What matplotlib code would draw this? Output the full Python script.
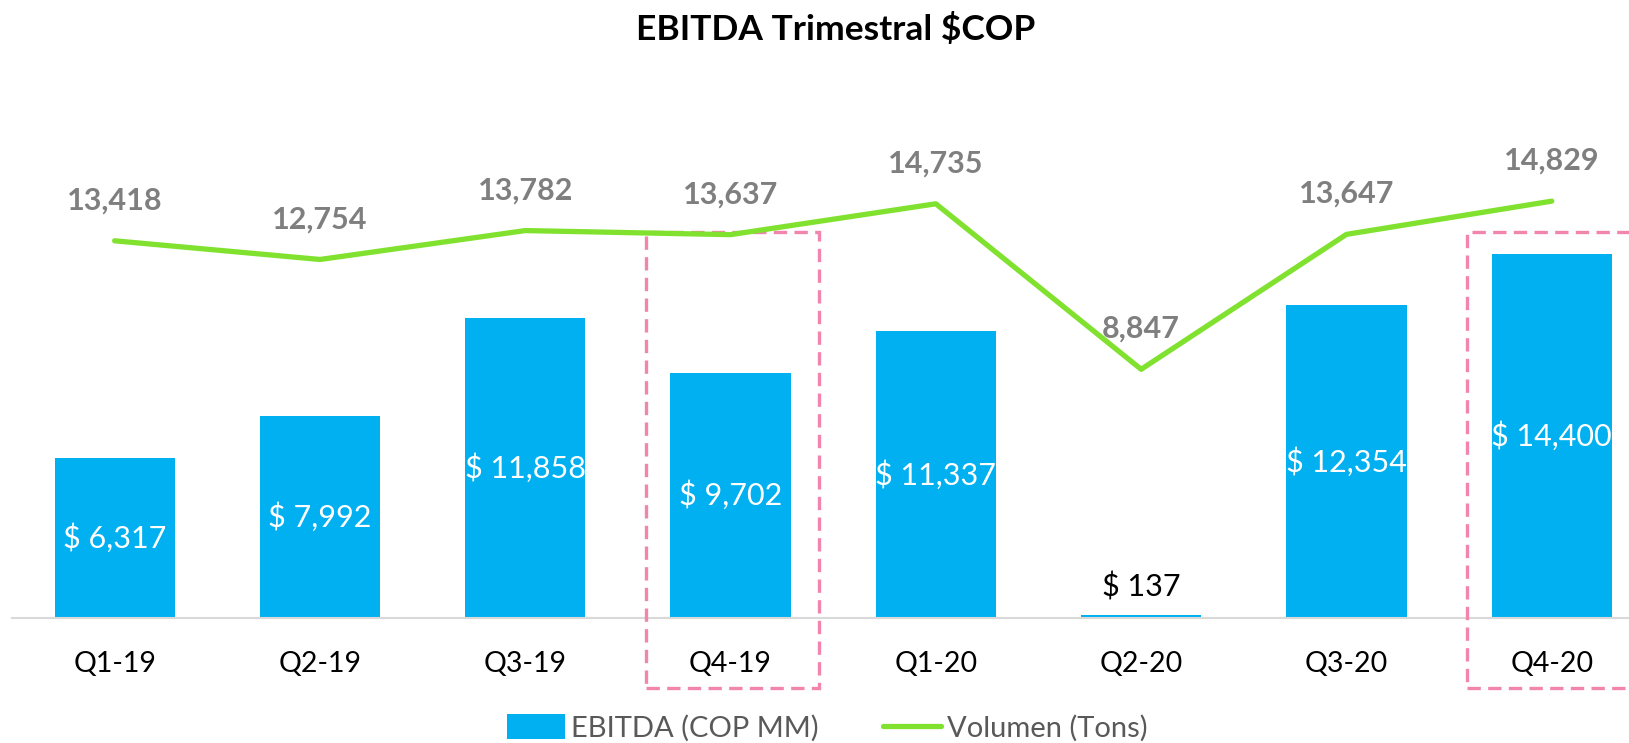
import matplotlib.pyplot as plt
from matplotlib.patches import Rectangle
from matplotlib.transforms import blended_transform_factory
import numpy as np

quarters = ["Q1-19", "Q2-19", "Q3-19", "Q4-19", "Q1-20", "Q2-20", "Q3-20", "Q4-20"]
ebitda = [6317, 7992, 11858, 9702, 11337, 137, 12354, 14400]
volumen = [13418, 12754, 13782, 13637, 14735, 8847, 13647, 14829]
highlight = ["Q4-19", "Q4-20"]

BAR_COLOR = "#00B0F0"
LINE_COLOR = "#80E22E"
GRAY = "#7F7F7F"
PINK = "#F285AD"

plt.rcParams['font.family'] = ['Lato', 'DejaVu Sans']

W, H = 1629, 743
fig = plt.figure(figsize=(W / 100, H / 100), dpi=100)
# axes placed in pixels; right side runs past the figure like the original
ax = fig.add_axes([12 / W, 125 / H, 8 * 205.3 / W, 506 / H])
ax2 = ax.twinx()

x = np.arange(len(quarters))
bars = ax.bar(x, ebitda, width=0.585, color=BAR_COLOR, label="EBITDA (COP MM)", zorder=2)
line, = ax2.plot(x, volumen, color=LINE_COLOR, lw=3.8, solid_capstyle='round',
                 label="Volumen (Tons)", zorder=3)

ax.set_xlim(-0.5, 7.5)
ax.set_ylim(0, 20000)
ax2.set_ylim(0, 18000)

for a in (ax, ax2):
    for s in a.spines.values():
        s.set_visible(False)
    a.set_yticks([])
ax.spines['bottom'].set_visible(True)
ax.spines['bottom'].set_color("#D9D9D9")
ax.spines['bottom'].set_linewidth(1.5)
ax.set_xticks(x)
ax.set_xticklabels(quarters, fontsize=20.5, color="black")
ax.tick_params(axis='x', length=0, pad=24)

# bar labels
for xi, v in zip(x, ebitda):
    txt = f"$ {v:,}"
    if v < 2000:
        ax.annotate(txt, (xi, v), xytext=(0, 20), textcoords='offset points',
                    ha='center', va='center', fontsize=22, color='black')
    else:
        ax.text(xi, v / 2, txt, ha='center', va='center', fontsize=22, color='white')

# line labels
for xi, v in zip(x, volumen):
    ax2.annotate(f"{v:,}", (xi, v), xytext=(0, 29), textcoords='offset points',
                 ha='center', va='center', fontsize=22, fontweight='bold', color=GRAY)

# dashed highlight boxes
tr = blended_transform_factory(ax.transData, fig.transFigure)
for q in highlight:
    i = quarters.index(q)
    ax.add_patch(Rectangle((i - 0.414, 55 / H), 0.843, 456 / H, transform=tr,
                           fill=False, ec=PINK, lw=2.4, ls=(0, (4, 2.2)),
                           clip_on=False, zorder=4))

fig.text(0.513, 1 - 29 / H, "EBITDA Trimestral $COP", ha='center', va='center',
         fontsize=25.5, fontweight='bold')

leg = fig.legend(handles=[bars, line], loc='center', bbox_to_anchor=(0.508, 15 / H),
                 ncol=2, frameon=False, fontsize=21, handlelength=2.0, handleheight=0.9,
                 columnspacing=2.2, handletextpad=0.2)
for t in leg.get_texts():
    t.set_color("#595959")

fig.savefig("out.png", dpi=100)
